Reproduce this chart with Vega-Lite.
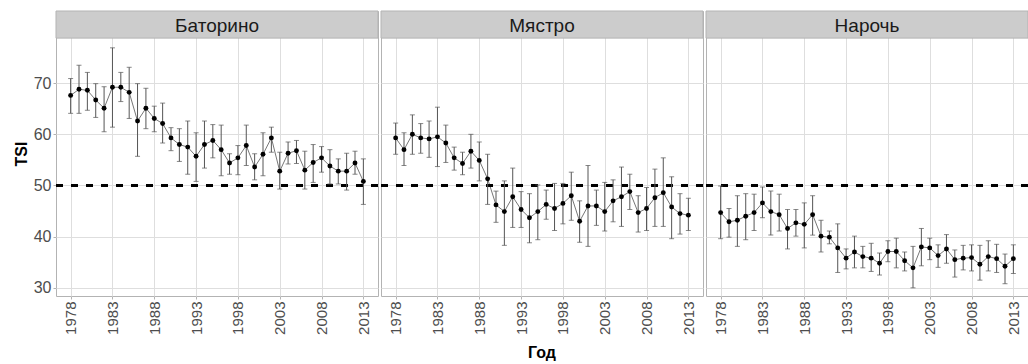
{
  "$schema": "https://vega.github.io/schema/vega-lite/v6.json",
  "padding": {"left": 13, "top": 10, "right": 0, "bottom": 0},
  "bounds": "flush",
  "background": "white",
  "config": {
    "font": "Liberation Sans",
    "view": {"stroke": "#b3b3b3", "strokeWidth": 1},
    "facet": {"spacing": 3}
  },
  "data": {"values": [
    {"lake":"Баторино","year":1978,"tsi":67.6,"lo":64.1,"hi":70.9},
    {"lake":"Баторино","year":1979,"tsi":68.8,"lo":64.1,"hi":73.5},
    {"lake":"Баторино","year":1980,"tsi":68.6,"lo":64.7,"hi":72.1},
    {"lake":"Баторино","year":1981,"tsi":66.7,"lo":63.3,"hi":69.9},
    {"lake":"Баторино","year":1982,"tsi":65.1,"lo":60.5,"hi":69.3},
    {"lake":"Баторино","year":1983,"tsi":69.2,"lo":61.4,"hi":76.9},
    {"lake":"Баторино","year":1984,"tsi":69.2,"lo":66.4,"hi":72.1},
    {"lake":"Баторино","year":1985,"tsi":68.2,"lo":63.1,"hi":73.1},
    {"lake":"Баторино","year":1986,"tsi":62.6,"lo":55.7,"hi":69.9},
    {"lake":"Баторино","year":1987,"tsi":65.1,"lo":61.1,"hi":69.0},
    {"lake":"Баторино","year":1988,"tsi":63.1,"lo":60.5,"hi":65.5},
    {"lake":"Баторино","year":1989,"tsi":62.1,"lo":58.3,"hi":66.1},
    {"lake":"Баторино","year":1990,"tsi":59.3,"lo":56.8,"hi":61.3},
    {"lake":"Баторино","year":1991,"tsi":58.0,"lo":54.7,"hi":61.1},
    {"lake":"Баторино","year":1992,"tsi":57.5,"lo":52.2,"hi":62.6},
    {"lake":"Баторино","year":1993,"tsi":55.7,"lo":50.8,"hi":60.3},
    {"lake":"Баторино","year":1994,"tsi":58.0,"lo":53.4,"hi":62.6},
    {"lake":"Баторино","year":1995,"tsi":58.8,"lo":55.4,"hi":61.9},
    {"lake":"Баторино","year":1996,"tsi":57.0,"lo":51.9,"hi":61.8},
    {"lake":"Баторино","year":1997,"tsi":54.4,"lo":52.2,"hi":56.2},
    {"lake":"Баторино","year":1998,"tsi":55.4,"lo":52.1,"hi":57.8},
    {"lake":"Баторино","year":1999,"tsi":57.8,"lo":53.9,"hi":61.8},
    {"lake":"Баторино","year":2000,"tsi":53.6,"lo":51.1,"hi":56.2},
    {"lake":"Баторино","year":2001,"tsi":56.1,"lo":51.9,"hi":60.3},
    {"lake":"Баторино","year":2002,"tsi":59.3,"lo":56.5,"hi":61.4},
    {"lake":"Баторино","year":2003,"tsi":52.8,"lo":49.3,"hi":56.5},
    {"lake":"Баторино","year":2004,"tsi":56.3,"lo":54.2,"hi":58.5},
    {"lake":"Баторино","year":2005,"tsi":56.8,"lo":54.3,"hi":58.8},
    {"lake":"Баторино","year":2006,"tsi":53.0,"lo":49.3,"hi":56.7},
    {"lake":"Баторино","year":2007,"tsi":54.5,"lo":50.6,"hi":58.0},
    {"lake":"Баторино","year":2008,"tsi":55.4,"lo":52.6,"hi":57.6},
    {"lake":"Баторино","year":2009,"tsi":53.8,"lo":50.3,"hi":57.0},
    {"lake":"Баторино","year":2010,"tsi":52.8,"lo":50.3,"hi":55.2},
    {"lake":"Баторино","year":2011,"tsi":52.8,"lo":49.1,"hi":56.3},
    {"lake":"Баторино","year":2012,"tsi":54.4,"lo":52.2,"hi":56.7},
    {"lake":"Баторино","year":2013,"tsi":50.8,"lo":46.3,"hi":55.2},
    {"lake":"Мястро","year":1978,"tsi":59.3,"lo":56.1,"hi":62.2},
    {"lake":"Мястро","year":1979,"tsi":57.0,"lo":53.9,"hi":60.3},
    {"lake":"Мястро","year":1980,"tsi":60.0,"lo":56.1,"hi":63.8},
    {"lake":"Мястро","year":1981,"tsi":59.3,"lo":56.3,"hi":62.1},
    {"lake":"Мястро","year":1982,"tsi":59.1,"lo":55.5,"hi":62.6},
    {"lake":"Мястро","year":1983,"tsi":59.5,"lo":53.7,"hi":65.3},
    {"lake":"Мястро","year":1984,"tsi":58.3,"lo":54.5,"hi":61.8},
    {"lake":"Мястро","year":1985,"tsi":55.4,"lo":53.0,"hi":57.5},
    {"lake":"Мястро","year":1986,"tsi":54.3,"lo":52.1,"hi":56.5},
    {"lake":"Мястро","year":1987,"tsi":56.7,"lo":53.4,"hi":60.0},
    {"lake":"Мястро","year":1988,"tsi":54.9,"lo":50.9,"hi":58.5},
    {"lake":"Мястро","year":1989,"tsi":51.3,"lo":46.3,"hi":56.1},
    {"lake":"Мястро","year":1990,"tsi":46.2,"lo":42.8,"hi":48.9},
    {"lake":"Мястро","year":1991,"tsi":44.9,"lo":38.3,"hi":50.9},
    {"lake":"Мястро","year":1992,"tsi":47.8,"lo":41.8,"hi":53.4},
    {"lake":"Мястро","year":1993,"tsi":45.3,"lo":41.8,"hi":48.8},
    {"lake":"Мястро","year":1994,"tsi":43.7,"lo":38.8,"hi":48.4},
    {"lake":"Мястро","year":1995,"tsi":44.9,"lo":39.4,"hi":50.1},
    {"lake":"Мястро","year":1996,"tsi":46.3,"lo":43.4,"hi":49.1},
    {"lake":"Мястро","year":1997,"tsi":45.5,"lo":41.2,"hi":50.4},
    {"lake":"Мястро","year":1998,"tsi":46.5,"lo":42.5,"hi":50.4},
    {"lake":"Мястро","year":1999,"tsi":48.0,"lo":43.2,"hi":52.6},
    {"lake":"Мястро","year":2000,"tsi":43.0,"lo":38.9,"hi":47.0},
    {"lake":"Мястро","year":2001,"tsi":46.0,"lo":38.1,"hi":53.9},
    {"lake":"Мястро","year":2002,"tsi":46.0,"lo":42.2,"hi":49.1},
    {"lake":"Мястро","year":2003,"tsi":44.9,"lo":41.1,"hi":50.6},
    {"lake":"Мястро","year":2004,"tsi":47.0,"lo":42.9,"hi":51.1},
    {"lake":"Мястро","year":2005,"tsi":47.8,"lo":42.0,"hi":53.6},
    {"lake":"Мястро","year":2006,"tsi":48.8,"lo":45.3,"hi":52.2},
    {"lake":"Мястро","year":2007,"tsi":44.7,"lo":40.9,"hi":48.0},
    {"lake":"Мястро","year":2008,"tsi":45.5,"lo":41.2,"hi":49.6},
    {"lake":"Мястро","year":2009,"tsi":47.6,"lo":42.0,"hi":53.2},
    {"lake":"Мястро","year":2010,"tsi":48.6,"lo":42.0,"hi":55.4},
    {"lake":"Мястро","year":2011,"tsi":45.8,"lo":39.6,"hi":51.7},
    {"lake":"Мястро","year":2012,"tsi":44.5,"lo":40.5,"hi":48.4},
    {"lake":"Мястро","year":2013,"tsi":44.2,"lo":41.2,"hi":47.5},
    {"lake":"Нарочь","year":1978,"tsi":44.7,"lo":39.6,"hi":49.9},
    {"lake":"Нарочь","year":1979,"tsi":42.9,"lo":39.9,"hi":45.5},
    {"lake":"Нарочь","year":1980,"tsi":43.2,"lo":38.1,"hi":48.0},
    {"lake":"Нарочь","year":1981,"tsi":44.0,"lo":39.4,"hi":48.4},
    {"lake":"Нарочь","year":1982,"tsi":44.7,"lo":41.2,"hi":48.3},
    {"lake":"Нарочь","year":1983,"tsi":46.6,"lo":43.7,"hi":49.7},
    {"lake":"Нарочь","year":1984,"tsi":44.9,"lo":40.3,"hi":48.9},
    {"lake":"Нарочь","year":1985,"tsi":44.3,"lo":41.1,"hi":48.3},
    {"lake":"Нарочь","year":1986,"tsi":41.6,"lo":37.6,"hi":45.3},
    {"lake":"Нарочь","year":1987,"tsi":42.7,"lo":40.1,"hi":45.3},
    {"lake":"Нарочь","year":1988,"tsi":42.4,"lo":37.8,"hi":46.6},
    {"lake":"Нарочь","year":1989,"tsi":44.3,"lo":40.3,"hi":48.0},
    {"lake":"Нарочь","year":1990,"tsi":40.1,"lo":37.0,"hi":43.2},
    {"lake":"Нарочь","year":1991,"tsi":39.9,"lo":38.6,"hi":41.1},
    {"lake":"Нарочь","year":1992,"tsi":37.8,"lo":33.0,"hi":42.5},
    {"lake":"Нарочь","year":1993,"tsi":35.8,"lo":33.7,"hi":37.6},
    {"lake":"Нарочь","year":1994,"tsi":37.0,"lo":33.9,"hi":40.1},
    {"lake":"Нарочь","year":1995,"tsi":36.1,"lo":33.9,"hi":38.1},
    {"lake":"Нарочь","year":1996,"tsi":35.8,"lo":33.2,"hi":38.7},
    {"lake":"Нарочь","year":1997,"tsi":34.8,"lo":32.5,"hi":36.8},
    {"lake":"Нарочь","year":1998,"tsi":37.1,"lo":35.1,"hi":39.2},
    {"lake":"Нарочь","year":1999,"tsi":37.1,"lo":33.9,"hi":39.7},
    {"lake":"Нарочь","year":2000,"tsi":35.3,"lo":33.3,"hi":37.0},
    {"lake":"Нарочь","year":2001,"tsi":33.9,"lo":30.0,"hi":38.1},
    {"lake":"Нарочь","year":2002,"tsi":38.0,"lo":34.3,"hi":41.6},
    {"lake":"Нарочь","year":2003,"tsi":37.8,"lo":35.5,"hi":39.7},
    {"lake":"Нарочь","year":2004,"tsi":36.3,"lo":34.0,"hi":38.4},
    {"lake":"Нарочь","year":2005,"tsi":37.6,"lo":34.8,"hi":40.4},
    {"lake":"Нарочь","year":2006,"tsi":35.5,"lo":32.1,"hi":37.4},
    {"lake":"Нарочь","year":2007,"tsi":35.8,"lo":33.5,"hi":38.3},
    {"lake":"Нарочь","year":2008,"tsi":35.9,"lo":33.3,"hi":38.4},
    {"lake":"Нарочь","year":2009,"tsi":34.6,"lo":31.5,"hi":38.3},
    {"lake":"Нарочь","year":2010,"tsi":36.1,"lo":33.3,"hi":39.2},
    {"lake":"Нарочь","year":2011,"tsi":35.7,"lo":33.0,"hi":38.5},
    {"lake":"Нарочь","year":2012,"tsi":34.2,"lo":30.8,"hi":36.6},
    {"lake":"Нарочь","year":2013,"tsi":35.7,"lo":32.8,"hi":38.4}
  ]},
  "facet": {
    "column": {
      "field": "lake",
      "type": "nominal",
      "sort": ["Баторино", "Мястро", "Нарочь"],
      "title": "Год",
      "header": {
        "labels": false,
        "titleOrient": "bottom",
        "titleFont": "Liberation Sans",
        "titleFontSize": 16,
        "titleFontWeight": "bold",
        "titleColor": "#000000",
        "titlePadding": 0
      }
    }
  },
  "spec": {
    "width": 322,
    "height": 285,
    "layer": [
      {
        "mark": {"type": "line", "color": "#777777", "strokeWidth": 1},
        "encoding": {
          "x": {
            "field": "year",
            "type": "quantitative",
            "scale": {"domain": [1976.25, 2014.75], "nice": false, "zero": false},
            "axis": {
              "title": null,
              "values": [1978, 1980.5, 1983, 1985.5, 1988, 1990.5, 1993, 1995.5, 1998, 2000.5, 2003, 2005.5, 2008, 2010.5, 2013],
              "labelExpr": "datum.value % 5 == 3 ? datum.label : ''",
              "format": "d",
              "labelAngle": -90,
              "labelAlign": "right",
              "labelBaseline": "middle",
              "labelFont": "Liberation Sans",
              "labelFontSize": 15,
              "labelColor": "#4d4d4d",
              "labelOverlap": false,
              "labelPadding": 2,
              "domain": false,
              "tickSize": 3,
              "tickColor": {"condition": {"test": "datum.value % 5 == 3", "value": "#b3b3b3"}, "value": "rgba(0,0,0,0)"},
              "gridColor": {"condition": {"test": "datum.value % 5 == 3", "value": "#dedede"}, "value": "#efefef"},
              "gridWidth": {"condition": {"test": "datum.value % 5 == 3", "value": 1}, "value": 0.6}
            }
          },
          "y": {
            "field": "tsi",
            "type": "quantitative",
            "scale": {"domain": [28.4, 84.1], "nice": false, "zero": false},
            "axis": {
              "title": "TSI",
              "titleFont": "Liberation Sans",
              "titleFontSize": 16,
              "titleFontWeight": "bold",
              "titleColor": "#000000",
              "titlePadding": 4,
              "values": [30, 35, 40, 45, 50, 55, 60, 65, 70, 75],
              "labelExpr": "datum.value % 10 == 0 ? datum.label : ''",
              "labelFont": "Liberation Sans",
              "labelFontSize": 16,
              "labelColor": "#4d4d4d",
              "labelPadding": 2,
              "domain": false,
              "tickSize": 3,
              "tickColor": {"condition": {"test": "datum.value % 10 == 0", "value": "#b3b3b3"}, "value": "rgba(0,0,0,0)"},
              "gridColor": {"condition": {"test": "datum.value % 10 == 0", "value": "#dedede"}, "value": "#efefef"},
              "gridWidth": {"condition": {"test": "datum.value % 10 == 0", "value": 1}, "value": 0.6}
            }
          }
        }
      },
      {
        "mark": {"type": "rule", "color": "#000000", "strokeWidth": 1.6, "strokeDash": [7, 8]},
        "encoding": {
          "y": {"datum": 50, "type": "quantitative"}
        }
      },
      {
        "mark": {"type": "rule", "color": "#555555", "strokeWidth": 1},
        "encoding": {
          "x": {"field": "year", "type": "quantitative"},
          "y": {"field": "lo", "type": "quantitative"},
          "y2": {"field": "hi"}
        }
      },
      {
        "mark": {"type": "tick", "orient": "horizontal", "color": "#555555", "size": 5, "thickness": 1},
        "encoding": {
          "x": {"field": "year", "type": "quantitative"},
          "y": {"field": "lo", "type": "quantitative"}
        }
      },
      {
        "mark": {"type": "tick", "orient": "horizontal", "color": "#555555", "size": 5, "thickness": 1},
        "encoding": {
          "x": {"field": "year", "type": "quantitative"},
          "y": {"field": "hi", "type": "quantitative"}
        }
      },
      {
        "mark": {"type": "point", "filled": true, "color": "#000000", "size": 24, "opacity": 1},
        "encoding": {
          "x": {"field": "year", "type": "quantitative"},
          "y": {"field": "tsi", "type": "quantitative"}
        }
      },
      {
        "transform": [{"filter": "datum.year == 1978"}],
        "mark": {"type": "rect", "fill": "#cccccc", "stroke": "#b3b3b3", "strokeWidth": 1},
        "encoding": {
          "x": {"datum": 1976.25, "type": "quantitative"},
          "x2": {"datum": 2014.75},
          "y": {"datum": 78.8, "type": "quantitative"},
          "y2": {"datum": 84.1}
        }
      },
      {
        "transform": [{"filter": "datum.year == 1978"}],
        "mark": {"type": "text", "font": "Liberation Sans", "fontSize": 19, "color": "#1a1a1a", "baseline": "middle", "align": "center", "dy": 1},
        "encoding": {
          "x": {"datum": 1995.5, "type": "quantitative"},
          "y": {"datum": 81.45, "type": "quantitative"},
          "text": {"field": "lake"}
        }
      }
    ]
  },
  "resolve": {"scale": {"x": "shared", "y": "shared"}}
}
